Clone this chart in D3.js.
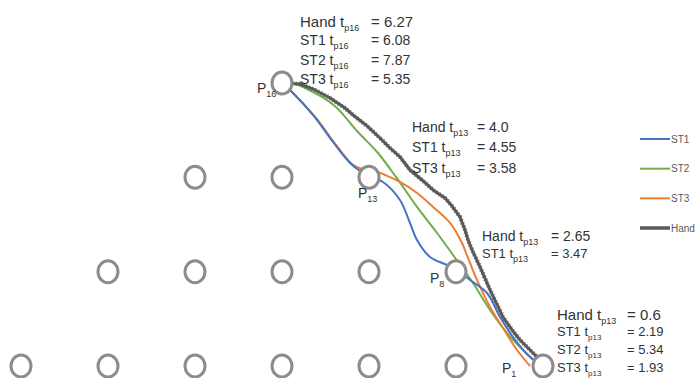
<!DOCTYPE html>
<html><head><meta charset="utf-8">
<script src="https://cdn.jsdelivr.net/npm/d3@7"></script>
<style>
body{margin:0;background:#fff}
svg{display:block}
text{font-family:"Liberation Sans",Arial,sans-serif;fill:#333}
</style>
</head><body><svg id="c" width="700" height="378"></svg>
<script>
// ---- data (grid units: column, row) ----
const rowColumns = [[0,1,2,3,4,5,6],[1,2,3,4,5],[2,3,4],[3]];
const pointNames = ["1","8","13","16"];
const pointCols  = [6,5,4,3];
const pointRows  = [0,1,2,3];
const seriesNames  = ["ST1","ST2","ST3","Hand"];
const st1Path = [[3,3],[3.092,2.926],[3.356,2.661],[3.586,2.375],[3.782,2.152],[3.897,2.067],[4.0,2.014],[4.161,1.951],[4.356,1.76],[4.471,1.516],[4.552,1.336],[4.701,1.156],[4.897,1.071],[5.023,1.007],[5.161,0.912],[5.356,0.774],[5.506,0.519],[5.655,0.307],[5.851,0.095],[6,0]];
const st2Path = [[3,3],[3.149,2.99],[3.287,2.936],[3.46,2.852],[3.632,2.735],[3.862,2.491],[4.103,2.258],[4.31,2.004],[4.552,1.686],[4.782,1.41],[4.966,1.177],[5.195,0.88],[5.391,0.594],[5.586,0.35],[5.77,0.17],[5.931,0.032]];
const st3Path = [[3,3],[3.115,2.905],[3.391,2.629],[3.621,2.343],[3.805,2.141],[3.92,2.088],[4.069,2.067],[4.184,2.025],[4.356,1.951],[4.552,1.834],[4.736,1.686],[4.931,1.516],[5.069,1.304],[5.138,1.145],[5.241,0.912],[5.391,0.625],[5.54,0.403],[5.701,0.17],[5.851,0]];
const handPath = [[3,3],[3.207,2.99],[3.379,2.926],[3.552,2.841],[3.724,2.735],[3.816,2.661],[3.977,2.545],[4.126,2.417],[4.241,2.311],[4.356,2.216],[4.471,2.078],[4.609,1.972],[4.736,1.866],[4.874,1.781],[4.954,1.696],[5.046,1.58],[5.103,1.442],[5.138,1.336],[5.195,1.209],[5.276,1.05],[5.391,0.806],[5.54,0.519],[5.644,0.382],[5.736,0.276],[5.851,0.17],[5.931,0.095],[6,0]];
// annotation blocks
const block16Names  = ["Hand","ST1","ST2","ST3"];
const block16Values = ["6.27","6.08","7.87","5.35"];
const block13Names  = ["Hand","ST1","ST3"];
const block13Values = ["4.0","4.55","3.58"];
const block8Names   = ["Hand","ST1"];
const block8Values  = ["2.65","3.47"];
const block1Names   = ["Hand","ST1","ST2","ST3"];
const block1Values  = ["0.6","2.19","5.34","1.93"];

// ---- layout / style ----
const colors = {ST1:"#4472C4",ST2:"#70AD47",ST3:"#ED7D31",Hand:"#595959"};
const svg = d3.select("#c");
const x = d3.scaleLinear().domain([0,6]).range([21,543]);
const y = d3.scaleLinear().domain([0,3]).range([366,83]);
const line = d3.line().x(d=>x(d[0])).y(d=>y(d[1])).curve(d3.curveCatmullRom.alpha(0.5));

const paths = {ST1:st1Path,ST2:st2Path,ST3:st3Path};
["ST2","ST3","ST1"].forEach(k=>{
  svg.append("path").attr("d",line(paths[k])).attr("fill","none")
    .attr("stroke",colors[k]).attr("stroke-width",2);
});
const handLine = d3.line().x(d=>x(d[0])).y(d=>y(d[1])).curve(d3.curveLinear);
svg.append("path").attr("d",handLine(handPath)).attr("fill","none")
  .attr("stroke",colors.Hand).attr("stroke-width",3).attr("stroke-linejoin","round");
svg.append("path").attr("d",handLine(handPath)).attr("fill","none")
  .attr("stroke",colors.Hand).attr("stroke-width",4.6).attr("stroke-dasharray","1.2,2.2").attr("opacity",0.75);

// circles
const pts = [];
rowColumns.forEach((cols,r)=>cols.forEach(c=>pts.push([c,r])));
svg.selectAll("ellipse.pt").data(pts).join("ellipse").attr("class","pt")
  .attr("cx",d=>x(d[0])).attr("cy",d=>y(d[1])).attr("rx",10).attr("ry",11)
  .attr("fill","#fff").attr("stroke","#8c8c8c").attr("stroke-width",3);

// point labels
const labelOffsets = {"16":[-25,10],"13":[-11,21],"8":[-26,11],"1":[-41,7]};
pointNames.forEach((n,i)=>{
  const o = labelOffsets[n];
  const t = svg.append("text").attr("x",x(pointCols[i])+o[0]).attr("y",y(pointRows[i])+o[1]).attr("font-size",14);
  t.append("tspan").text("P");
  t.append("tspan").attr("font-size",9).attr("dy",4).text(n);
});

// annotation blocks
function block(names, values, sub, x0, eqX, baselines, sizes, subSizes){
  names.forEach((n,i)=>{
    const t = svg.append("text").attr("x",x0).attr("y",baselines[i]).attr("font-size",sizes[i]);
    t.append("tspan").text(n+" t");
    t.append("tspan").attr("font-size",subSizes[i]).attr("dy",4).text(sub);
    svg.append("text").attr("x",eqX).attr("y",baselines[i]).attr("font-size",sizes[i]).text("= "+values[i]);
  });
}
block(block16Names,block16Values,"p16",300,371,[27,45,65,84],[15,14,14,14],[9,9,9,9]);
block(block13Names,block13Values,"p13",412,477,[132,152,173],[14,14,14],[9,9,9]);
block(block8Names,block8Values,"p13",482,551,[241,258],[14,13],[9,9]);
block(block1Names,block1Values,"p13",557,627,[320,336,354,372],[15,13,13,13],[9,8,8,8]);

// legend
const legY = d3.scalePoint().domain(seriesNames).range([139,228]);
seriesNames.forEach(k=>{
  svg.append("line").attr("x1",640).attr("x2",670).attr("y1",legY(k)).attr("y2",legY(k))
    .attr("stroke",colors[k]).attr("stroke-width",k==="Hand"?3.5:2);
  svg.append("text").attr("x",671).attr("y",legY(k)+3.5).attr("font-size",10)
    .style("fill","#595959").text(k);
});
</script></body></html>
